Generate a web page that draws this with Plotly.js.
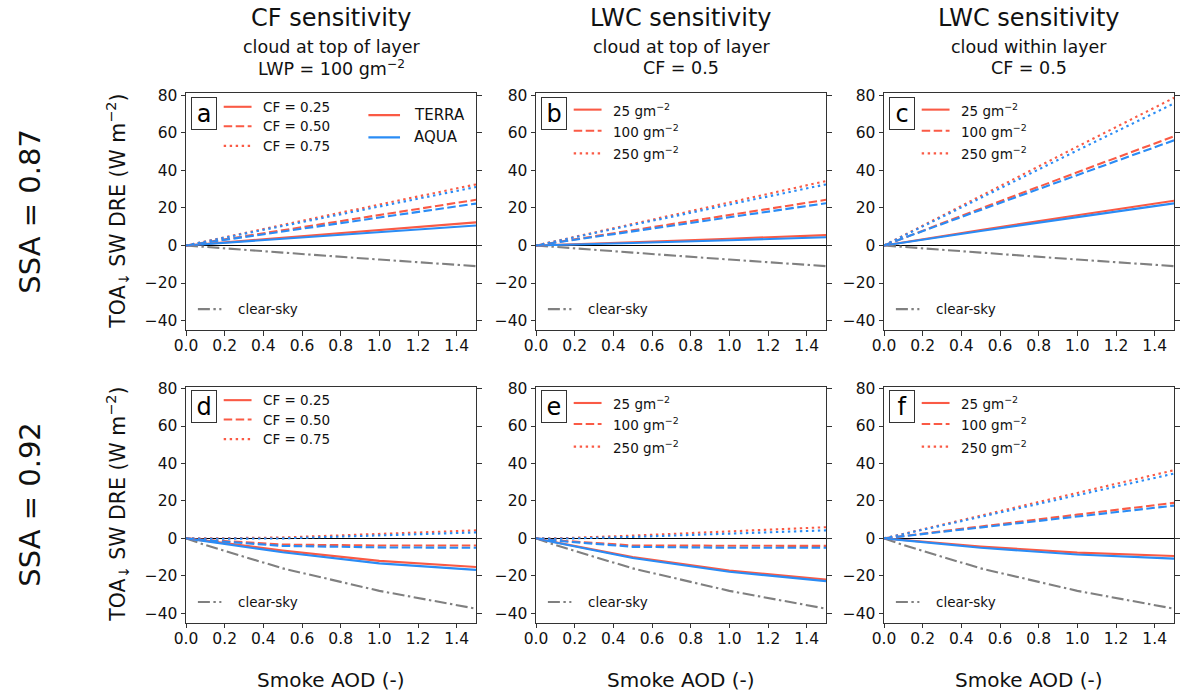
<!DOCTYPE html>
<html><head><meta charset="utf-8">
<script src="https://cdn.plot.ly/plotly-3.0.1.min.js"></script>
<style>html,body{margin:0;padding:0;background:#fff}#chart{width:1182px;height:695px}</style>
</head><body><div id="chart"></div>
<script>
// ---------- data ----------
const aod = [0, 0.1, 0.5, 1.0, 1.5];

// SSA = 0.87
const clearTop = [0, -0.8, -3.8, -7.5, -11];
// panel a: CF sensitivity (CF = 0.25, 0.50, 0.75)
const aTerra1 = [0, 0.8, 4.2, 8.3, 12.3];
const aAqua1  = [0, 0.7, 3.6, 7.2, 10.6];
const aTerra2 = [0, 1.6, 8.2, 16.3, 24.3];
const aAqua2  = [0, 1.5, 7.5, 14.9, 22.3];
const aTerra3 = [0, 2.2, 11.0, 21.8, 32.5];
const aAqua3  = [0, 2.1, 10.5, 20.9, 31.1];
// panel b: LWC sensitivity, cloud at top (25, 100, 250 g m-2)
const bTerra1 = [0, 0.3, 1.7, 3.6, 5.5];
const bAqua1  = [0, 0.2, 1.3, 2.8, 4.4];
const bTerra2 = [0, 1.6, 8.2, 16.3, 24.3];
const bAqua2  = [0, 1.5, 7.6, 15.1, 22.5];
const bTerra3 = [0, 2.3, 11.5, 23.0, 34.3];
const bAqua3  = [0, 2.2, 10.9, 21.8, 32.5];
// panel c: LWC sensitivity, cloud within layer
const cTerra1 = [0, 1.7, 8.2, 16.1, 23.8];
const cAqua1  = [0, 1.6, 7.7, 15.1, 22.4];
const cTerra2 = [0, 4.0, 19.6, 39.0, 58.1];
const cAqua2  = [0, 3.9, 18.9, 37.6, 56.0];
const cTerra3 = [0, 5.3, 26.4, 52.6, 78.6];
const cAqua3  = [0, 5.1, 25.4, 50.6, 75.6];

// SSA = 0.92
const clearBot = [0, -3.5, -16, -28, -37.5];
// panel d
const dTerra1 = [0, -1.2, -6.5, -12.0, -15.3];
const dAqua1  = [0, -1.4, -7.4, -13.3, -16.8];
const dTerra2 = [0, -0.8, -3.3, -3.8, -3.8];
const dAqua2  = [0, -1.0, -4.0, -4.8, -5.0];
const dTerra3 = [0, 0.0, 0.5, 2.4, 4.3];
const dAqua3  = [0, -0.2, 0.0, 1.6, 3.2];
// panel e
const eTerra1 = [0, -2.0, -10.0, -17.2, -21.9];
const eAqua1  = [0, -2.2, -10.5, -17.8, -22.8];
const eTerra2 = [0, -1.0, -3.8, -4.1, -4.0];
const eAqua2  = [0, -1.2, -4.5, -5.0, -5.0];
const eTerra3 = [0, 0.0, 1.5, 3.8, 6.0];
const eAqua3  = [0, -0.2, 0.8, 2.6, 4.3];
// panel f
const fTerra1 = [0, -0.8, -4.3, -7.6, -9.4];
const fAqua1  = [0, -1.0, -5.0, -8.6, -10.8];
const fTerra2 = [0, 1.3, 6.4, 12.7, 19.0];
const fAqua2  = [0, 1.2, 5.9, 11.7, 17.5];
const fTerra3 = [0, 2.4, 12.2, 24.3, 36.4];
const fAqua3  = [0, 2.3, 11.6, 23.1, 34.6];

const panelLetters = ['a', 'b', 'c', 'd', 'e', 'f'];
const cfLabels = ['CF = 0.25', 'CF = 0.50', 'CF = 0.75'];
const lwcLabels = ['25 gm<sup>−2</sup>', '100 gm<sup>−2</sup>', '250 gm<sup>−2</sup>'];
const colTitles = ['CF sensitivity', 'LWC sensitivity', 'LWC sensitivity'];
const colSub1 = ['cloud at top of layer', 'cloud at top of layer', 'cloud within layer'];
const colSub2 = ['LWP = 100 gm<sup>−2</sup>', 'CF = 0.5', 'CF = 0.5'];
const rowLabels = ['SSA = 0.87', 'SSA = 0.92'];

// ---------- styling ----------
const FONT = 'DejaVu Sans';
const TERRA = '#fa5a45';
const AQUA = '#2a8cf5';
const GREY = '#808080';
const DASHES = ['solid', '8.5px,3.5px', '2.4px,3.6px'];
const CLEARDASH = '12px,3.5px,2.4px,3.5px';
const LW = 2.1;

const panels = [
  {clear: clearTop, terra: [aTerra1, aTerra2, aTerra3], aqua: [aAqua1, aAqua2, aAqua3], labels: cfLabels},
  {clear: clearTop, terra: [bTerra1, bTerra2, bTerra3], aqua: [bAqua1, bAqua2, bAqua3], labels: lwcLabels},
  {clear: clearTop, terra: [cTerra1, cTerra2, cTerra3], aqua: [cAqua1, cAqua2, cAqua3], labels: lwcLabels},
  {clear: clearBot, terra: [dTerra1, dTerra2, dTerra3], aqua: [dAqua1, dAqua2, dAqua3], labels: cfLabels},
  {clear: clearBot, terra: [eTerra1, eTerra2, eTerra3], aqua: [eAqua1, eAqua2, eAqua3], labels: lwcLabels},
  {clear: clearBot, terra: [fTerra1, fTerra2, fTerra3], aqua: [fAqua1, fAqua2, fAqua3], labels: lwcLabels}
];

const W = 1182, H = 695;
const colPx = [[186, 476], [536, 826], [884, 1174]];
const rowPx = [[93.3, 330], [386.7, 622.7]];

const traces = [];
const layout = {
  width: W, height: H,
  margin: {l: 0, r: 0, t: 0, b: 0},
  paper_bgcolor: '#fff', plot_bgcolor: '#fff',
  showlegend: false,
  font: {family: FONT, color: '#000', size: 14},
  annotations: [], shapes: []
};

panels.forEach((p, i) => {
  const n = i + 1;
  const sfx = n === 1 ? '' : String(n);
  const xa = 'x' + sfx, ya = 'y' + sfx;
  const col = i % 3, row = Math.floor(i / 3);
  const xd = [colPx[col][0] / W, colPx[col][1] / W];
  const yd = [1 - rowPx[row][1] / H, 1 - rowPx[row][0] / H];

  layout['xaxis' + sfx] = {
    domain: xd, anchor: ya, range: [0, 1.5], dtick: 0.2, tick0: 0, tickformat: '.1f',
    showline: true, linecolor: '#333', linewidth: 1, mirror: true,
    ticks: 'outside', ticklen: 4.5, tickcolor: '#333', showgrid: false, zeroline: false,
    ticklabelstandoff: -3,
    tickfont: {size: 15.5, family: FONT, color: '#111'}
  };
  layout['yaxis' + sfx] = {
    domain: yd, anchor: xa, range: [-45, 81], dtick: 20, tick0: 0,
    showline: true, linecolor: '#333', linewidth: 1, mirror: 'ticks',
    ticks: 'outside', ticklen: 4.5, tickcolor: '#333', showgrid: false,
    zeroline: true, zerolinecolor: '#000', zerolinewidth: 1.5,
    tickfont: {size: 15.5, family: FONT, color: '#111'}
  };

  traces.push({x: aod, y: p.clear, xaxis: xa, yaxis: ya, mode: 'lines',
    line: {color: GREY, width: LW, dash: CLEARDASH}, hoverinfo: 'skip'});
  for (let k = 0; k < 3; k++) {
    traces.push({x: aod, y: p.terra[k], xaxis: xa, yaxis: ya, mode: 'lines',
      line: {color: TERRA, width: LW, dash: DASHES[k]}, hoverinfo: 'skip'});
    traces.push({x: aod, y: p.aqua[k], xaxis: xa, yaxis: ya, mode: 'lines',
      line: {color: AQUA, width: LW, dash: DASHES[k]}, hoverinfo: 'skip'});
  }

  const xdom = xa + ' domain', ydom = ya + ' domain';
  // panel letter box
  layout.annotations.push({xref: xdom, yref: ydom, x: 0.017, y: 0.985, xanchor: 'left', yanchor: 'top',
    text: panelLetters[i], showarrow: false, font: {size: 24, family: FONT, color: '#000'},
    bordercolor: '#333', borderwidth: 1, borderpad: 1, bgcolor: '#fff', width: 22, height: 29});

  // legend (line style samples)
  const rowsY = (col === 0) ? [0.943, 0.861, 0.778] : [0.931, 0.842, 0.746];
  for (let k = 0; k < 3; k++) {
    layout.shapes.push({type: 'line', xref: xdom, yref: ydom, x0: 0.13, x1: 0.226, y0: rowsY[k], y1: rowsY[k],
      line: {color: TERRA, width: LW, dash: DASHES[k]}});
    layout.annotations.push({xref: xdom, yref: ydom, x: 0.26, y: rowsY[k], xanchor: 'left', yanchor: 'middle',
      text: p.labels[k], showarrow: false, font: {size: 13.5, family: FONT, color: '#111'}});
  }
  layout.shapes.push({type: 'line', xref: xdom, yref: ydom, x0: 0.041, x1: 0.122, y0: 0.088, y1: 0.088,
    line: {color: GREY, width: LW, dash: CLEARDASH}});
  layout.annotations.push({xref: xdom, yref: ydom, x: 0.173, y: 0.088, xanchor: 'left', yanchor: 'middle',
    text: 'clear-sky', showarrow: false, font: {size: 13.5, family: FONT, color: '#111'}});

  if (i === 0) {
    const sat = [['TERRA', TERRA, 0.908], ['AQUA', AQUA, 0.814]];
    sat.forEach(s => {
      layout.shapes.push({type: 'line', xref: xdom, yref: ydom, x0: 0.629, x1: 0.738, y0: s[2], y1: s[2],
        line: {color: s[1], width: LW}});
      layout.annotations.push({xref: xdom, yref: ydom, x: 0.778, y: s[2], xanchor: 'left', yanchor: 'middle',
        text: s[0], showarrow: false, font: {size: 15, family: FONT, color: '#111'}});
    });
  }

  // x-axis title (under each bottom-row panel)
  if (row === 1) {
    layout.annotations.push({xref: 'paper', yref: 'paper', x: (xd[0] + xd[1]) / 2, y: 1 - 680 / H,
      xanchor: 'center', yanchor: 'middle', text: 'Smoke AOD (-)', showarrow: false,
      font: {size: 20, family: FONT, color: '#111'}});
  }

  if (col === 0) {
    layout.annotations.push({xref: 'paper', yref: 'paper', x: 118 / W, y: (yd[0] + yd[1]) / 2,
      xanchor: 'center', yanchor: 'middle', textangle: -90,
      text: 'TOA<sub>↓</sub> SW DRE (W m<sup>−2</sup>)', showarrow: false,
      font: {size: 20.5, family: FONT, color: '#111'}});
    layout.annotations.push({xref: 'paper', yref: 'paper', x: 30 / W, y: (yd[0] + yd[1]) / 2,
      xanchor: 'center', yanchor: 'middle', textangle: -90,
      text: rowLabels[row], showarrow: false, font: {size: 29, family: FONT, color: '#111'}});
  }
  if (row === 0) {
    const cx = (xd[0] + xd[1]) / 2;
    layout.annotations.push({xref: 'paper', yref: 'paper', x: cx, y: 1 - 18 / H, xanchor: 'center', yanchor: 'middle',
      text: colTitles[col], showarrow: false, font: {size: 24, family: FONT, color: '#111'}});
    layout.annotations.push({xref: 'paper', yref: 'paper', x: cx, y: 1 - 47 / H, xanchor: 'center', yanchor: 'middle',
      text: colSub1[col], showarrow: false, font: {size: 17.5, family: FONT, color: '#111'}});
    layout.annotations.push({xref: 'paper', yref: 'paper', x: cx, y: 1 - 68 / H, xanchor: 'center', yanchor: 'middle',
      text: colSub2[col], showarrow: false, font: {size: 17.5, family: FONT, color: '#111'}});
  }
});

Plotly.newPlot('chart', traces, layout, {displayModeBar: false, staticPlot: true});
</script>
</body></html>
